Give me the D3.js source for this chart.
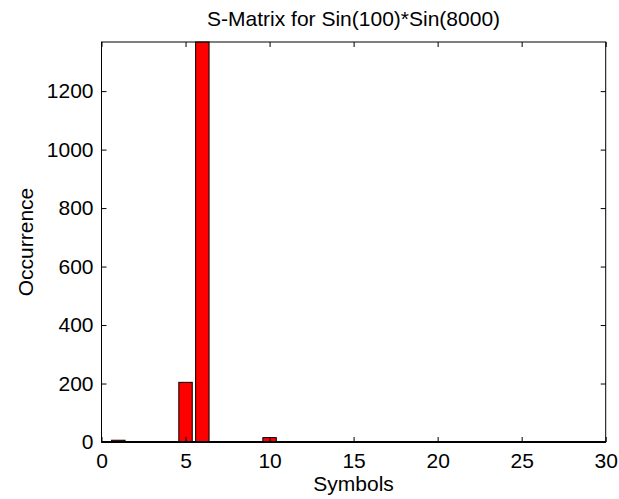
<!DOCTYPE html>
<html>
<head>
<meta charset="utf-8">
<script src="https://cdn.jsdelivr.net/npm/d3@7"></script>
<style>
  body { margin: 0; background: #fff; }
  text { font-family: "Liberation Sans", Arial, sans-serif; fill: #000; }
</style>
</head>
<body>
<div id="chart"></div>
<script>
// symbol histogram
var symbols = [1, 5, 6, 10];
var counts = [6, 204, 1368, 15];
var xTicks = [0, 5, 10, 15, 20, 25, 30];
var yTicks = [0, 200, 400, 600, 800, 1000, 1200];

var W = 619, H = 499;
var margin = {top: 42, right: 13.3, bottom: 57, left: 101.5},
    width = W - margin.left - margin.right,
    height = H - margin.top - margin.bottom;

var data = symbols.map(function (s, i) { return {sym: s, n: counts[i]}; });

var x = d3.scaleLinear().domain([0, 30]).range([0, width]);
var y = d3.scaleLinear().domain([0, d3.max(counts)]).range([height, 0]);

var svg = d3.select("#chart").append("svg")
    .attr("width", W)
    .attr("height", H);

var g = svg.append("g")
    .attr("transform", "translate(" + margin.left + "," + margin.top + ")");

// bars, width 0.8 like matlab default
var bw = x(0.8) - x(0);
g.selectAll(".bar")
    .data(data)
    .enter().append("rect")
    .attr("class", "bar")
    .attr("x", function (d) { return x(d.sym) - bw / 2; })
    .attr("y", function (d) { return y(d.n); })
    .attr("width", bw)
    .attr("height", function (d) { return height - y(d.n); })
    .style("fill", "#ff0000")
    .style("stroke", "#000")
    .style("stroke-width", 1);

// axes with inward ticks
var xAxis = d3.axisBottom(x).tickValues(xTicks).tickSize(-5).tickPadding(11)
    .tickFormat(d3.format("d"));
var yAxis = d3.axisLeft(y).tickValues(yTicks).tickSize(-5).tickPadding(8)
    .tickFormat(d3.format("d"));

var gx = g.append("g")
    .attr("transform", "translate(0," + height + ")")
    .call(xAxis);
var gy = g.append("g").call(yAxis);

// top and right ticks
g.append("g").call(d3.axisTop(x).tickValues(xTicks).tickSize(-5).tickFormat(""));
g.append("g").attr("transform", "translate(" + width + ",0)")
    .call(d3.axisRight(y).tickValues(yTicks).tickSize(-5).tickFormat(""));

g.selectAll(".domain").remove();
g.selectAll(".tick line").attr("stroke", "#000");
g.selectAll(".tick text").style("font-size", "21px").attr("fill", "#000");

// box
g.append("rect")
    .attr("width", width)
    .attr("height", height)
    .style("fill", "none")
    .style("stroke", "#000")
    .style("stroke-width", 1);
g.append("line")
    .attr("x1", 0).attr("x2", width)
    .attr("y1", height).attr("y2", height)
    .style("stroke", "#000")
    .style("stroke-width", 2);

svg.append("text")
    .attr("x", margin.left + width / 2)
    .attr("y", 26)
    .attr("text-anchor", "middle")
    .style("font-size", "21px")
    .text("S-Matrix for Sin(100)*Sin(8000)");

svg.append("text")
    .attr("x", margin.left + width / 2)
    .attr("y", 491)
    .attr("text-anchor", "middle")
    .style("font-size", "21px")
    .text("Symbols");

svg.append("text")
    .attr("transform", "translate(33," + (margin.top + height / 2) + ") rotate(-90)")
    .attr("text-anchor", "middle")
    .style("font-size", "21px")
    .text("Occurrence");
</script>
</body>
</html>
